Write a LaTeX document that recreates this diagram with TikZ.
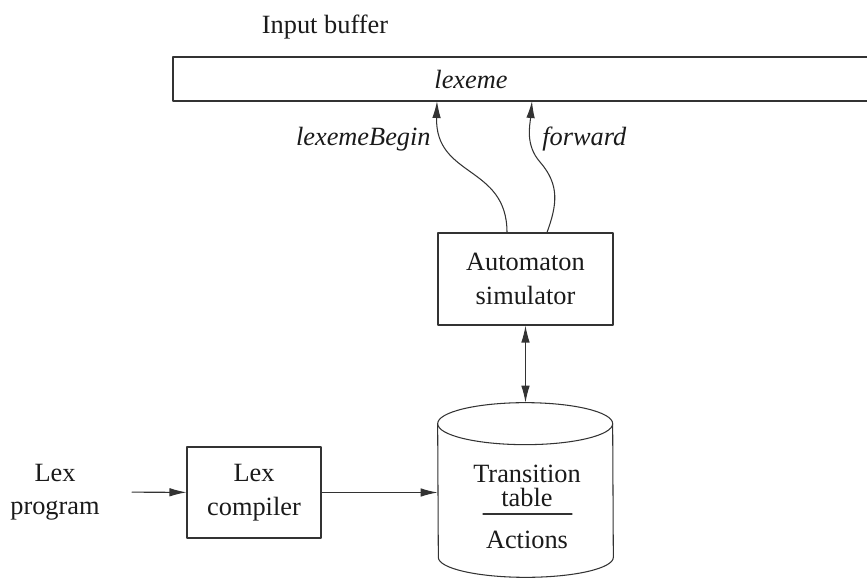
\documentclass[tikz,border=0pt]{standalone}
\usepackage{fontspec}
\setmainfont{Liberation Serif}
\newfontfamily\lxserif{Liberation Serif}
\usepackage{tikz}
\usetikzlibrary{arrows.meta,positioning}
\definecolor{lxInk}{HTML}{1A1A1A}
\definecolor{lxLine}{HTML}{333333}
\tikzset{
  lx diagram/.style={font=\lxserif\fontsize{15}{19}\selectfont, text=lxInk,
    line cap=round, line join=round, x=0.02cm, y=-0.02cm},
  lx line/.style={draw=lxLine, line width=0.6pt},
  lx box/.style={lx line, fill=white, align=center, inner sep=0pt},
  lx arrow/.style={-{Latex[length=3.4mm,width=1.7mm]}, lx line},
  lx twoway/.style={{Latex[length=3.4mm,width=1.7mm]}-{Latex[length=3.4mm,width=1.7mm]}, lx line},
  lx label/.style={font=\lxserif\fontsize{15}{19}\selectfont\itshape, inner sep=0pt},
  lx text/.style={align=center, inner sep=0pt}
}
\begin{document}
\begin{tikzpicture}[lx diagram]
\useasboundingbox (0,0) rectangle (867,581);
% input buffer, open to the right
\node[lx text] (inbuf) at (325,27) {Input buffer};
\draw[lx line] (867,57) -- (173,57) -- (173,101) -- (867,101);
\node[lx label] (lexeme) at (471,79) {lexeme};
\coordinate (begtip) at (437,101);
\coordinate (fwdtip) at (532,101);
% simulator and its two pointers
\node[lx box,minimum width=3.5cm,minimum height=1.84cm] (sim) at (525.5,279) {Automaton\\simulator};
\node[lx label,anchor=east] (beglab) at (431,139) {lexemeBegin};
\node[lx label,anchor=west] (fwdlab) at (542,139) {forward};
\draw[lx arrow] ([xshift=-0.37cm]sim.north) .. controls (507,165) and (435,178) .. (begtip);
\draw[lx arrow] ([xshift=0.43cm]sim.north) .. controls (557,205) and (560,185) .. (540,162)
  .. controls (525,145) and (530,125) .. (fwdtip);
% transition table drum
\node[minimum width=3.5cm,minimum height=2.66cm,inner sep=0pt] (tbl) at (525.5,490.5) {};
\draw[lx line] (tbl.north west) arc[start angle=180,end angle=360,x radius=87.5,y radius=21]
  -- (tbl.south east) arc[start angle=0,end angle=180,x radius=87.5,y radius=20] -- cycle;
\draw[lx line] (tbl.north west) arc[start angle=180,end angle=0,x radius=87.5,y radius=21];
\coordinate (tbltop) at ([yshift=0.42cm]tbl.north);
\node[lx text,font=\lxserif\fontsize{15}{14}\selectfont] (trans) at (527,486) {Transition\\table};
\draw[lx line] (483,514) -- (572,514);
\node[lx text] (actions) at (527,540) {Actions};
\draw[lx twoway] (sim.south) -- (tbltop);
% lex input side
\node[lx text] (lexprog) at (55,492) {Lex\\program};
\node[lx box,minimum width=2.68cm,minimum height=1.82cm] (lexcomp) at (254,492.5) {Lex\\compiler};
\draw[lx arrow,shorten <=0.64cm] (lexprog) -- (lexcomp);
\draw[lx arrow] (lexcomp) -- (lexcomp -| tbl.west);
\end{tikzpicture}
\end{document}
